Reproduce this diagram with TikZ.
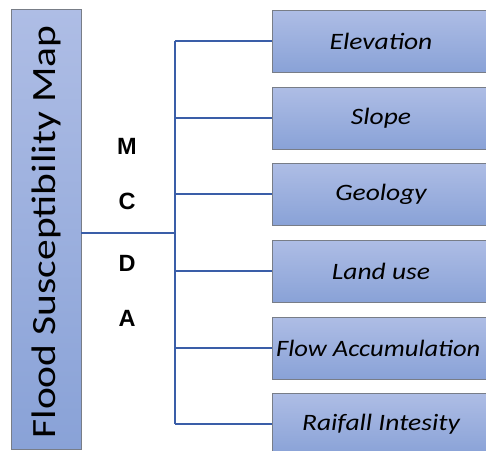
\documentclass[tikz,border=0pt]{standalone}
\usepackage{fontspec}
\setmainfont{Carlito}
\newfontfamily\arialb{Liberation Sans}
\definecolor{boxtop}{RGB}{174,189,229}
\definecolor{boxbot}{RGB}{137,162,215}
\definecolor{boxedge}{RGB}{120,125,135}
\definecolor{wire}{RGB}{58,94,168}
\begin{document}
\begin{tikzpicture}[x=1pt,y=-1pt,
  fbox/.style={draw=boxedge,line width=1pt,top color=boxtop,bottom color=boxbot},
  lbl/.style={font=\fontsize{23.5}{26}\selectfont\itshape,inner sep=0pt},
  letter/.style={font=\arialb\bfseries\fontsize{23.5}{26}\selectfont,inner sep=0pt},
  wireline/.style={draw=wire,line width=1.5pt}]
\clip (0,0) rectangle (486,450);
\fill[white] (0,0) rectangle (486,450);
% left title box
\path[fbox] (11,9) rectangle (81,449);
\node[rotate=90,font=\fontsize{34}{38}\selectfont,inner sep=0pt] (title) at (46,232) {\scalebox{1.22}[1]{Flood Susceptibility Map}};
\coordinate (tr) at (81,233);
% trunk
\coordinate (hub) at (175,233);
\coordinate (vt) at (175,41);
\coordinate (vb) at (175,424);
\draw[wireline] (tr) -- (hub);
\draw[wireline] (vt) -- (vb);
% MCDA letters
\node[letter] (m) at (127,146) {M};
\node[letter] (c) at (127,201) {C};
\node[letter] (d) at (127,263) {D};
\node[letter] (a) at (127,318) {A};
% right boxes
\foreach \i/\y/\t in {1/41/Elevation,2/118/Slope,3/194/Geology,4/271/Land use,6/424/Raifall Intesity}{
  \path[fbox] (272,\y-31) rectangle (486,\y+31);
  \node[lbl] (b\i) at (381,\y) {\scalebox{1.17}[1]{\t}};
  \coordinate (e\i) at (272,\y);
  \coordinate (s\i) at (175,\y);
  \draw[wireline] (s\i) -- (e\i);
}
\path[fbox] (272,317) rectangle (486,379);
\node[lbl,anchor=west] (b5) at (276,348) {\scalebox{1.13}[1]{Flow Accumulation}};
\coordinate (e5) at (272,348);
\coordinate (s5) at (175,348);
\draw[wireline] (s5) -- (e5);
\end{tikzpicture}
\end{document}
